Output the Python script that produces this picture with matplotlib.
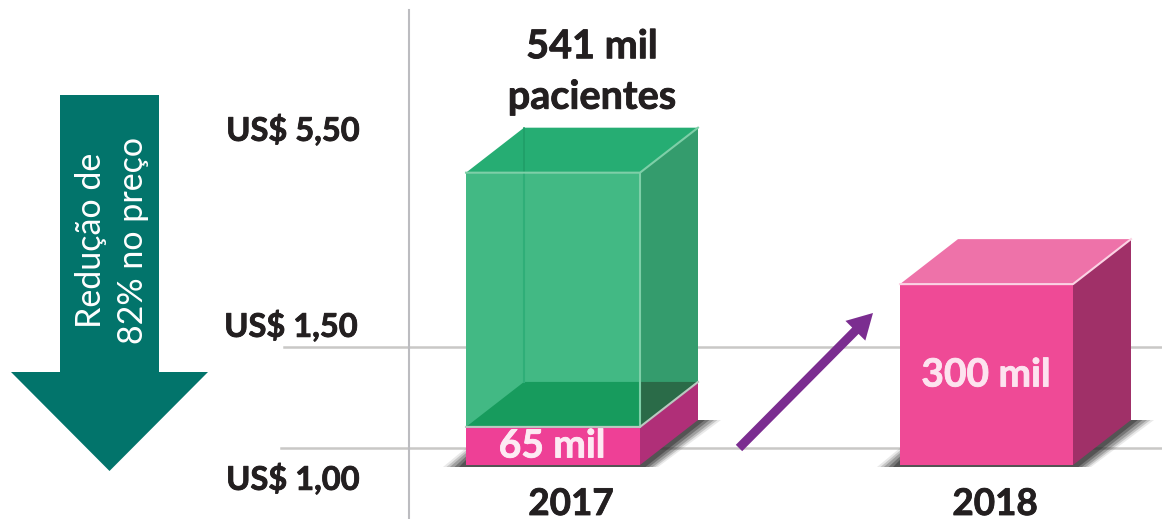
import matplotlib
matplotlib.use("Agg")
import matplotlib.pyplot as plt
import matplotlib.patheffects as pe
from matplotlib.patches import Polygon, FancyArrow

plt.rcParams['font.family'] = ['Lato', 'DejaVu Sans']

# --- dados ---
anos = ['2017', '2018']
precos = ['US$ 5,50', 'US$ 1,50', 'US$ 1,00']
rotulo_total = '541 mil\npacientes'
rotulo_2017 = '65 mil'
rotulo_2018 = '300 mil'
seta_texto = 'Redução de\n82% no preço'
# alturas como desenhadas na figura (mil pacientes)
altura_total_2017 = 522
altura_base_2017 = 68
altura_2018 = 323

# --- layout (a figura inteira em pixels) ---
W, H = 1162, 519
BASE = 465
ESCALA = 0.56  # px por mil pacientes
DX, DY = 58, -45
TXT = '#231f20'

fig = plt.figure(figsize=(W / 100, H / 100), dpi=100)
ax = fig.add_axes([0, 0, 1, 1])
ax.set_xlim(0, W)
ax.set_ylim(H, 0)
ax.axis('off')


def poly(pts, color, z=3, alpha=1.0):
    ax.add_patch(Polygon(pts, closed=True, facecolor=color, edgecolor='none', alpha=alpha, zorder=z))


def sombra(x0, x1):
    # sombra suave no chao, camadas transparentes
    for k, a in zip([1.0, 0.85, 0.7, 0.5, 0.3], [0.10, 0.18, 0.25, 0.35, 0.45]):
        poly([(x0 - 23 * k, BASE + 2), (x0, BASE - 17 * k), (x1 + DX, BASE + DY),
              (x1 + DX + 23 * k, BASE + DY), (x1 + 18 * k, BASE + 2)], '#2b2b2b', z=2, alpha=a)


def topo(v):
    return BASE - v * ESCALA


def negrito(x, y, txt, color, size, **kw):
    t = ax.text(x, y, txt, color=color, fontsize=size, fontweight='bold', ha='center', zorder=8, **kw)
    t.set_path_effects([pe.withStroke(linewidth=0.6, foreground=color)])
    return t


# grade e eixo
ax.plot([284, W], [347, 347], color='#c9c8c6', lw=1.8, zorder=1)
ax.plot([281, W], [448, 448], color='#c9c8c6', lw=1.8, zorder=1)
ax.plot([409, 409], [10, H], color='#bcbcc0', lw=1.5, zorder=1)

# --- 2017 ---
x0, x1 = 466, 640
y_base = topo(altura_base_2017)
y_total = topo(altura_total_2017)
sombra(x0, x1)
poly([(x0, y_base), (x1, y_base), (x1, BASE), (x0, BASE)], '#ee4096', z=3)
poly([(x1, y_base), (x1 + DX, y_base + DY), (x1 + DX, BASE + DY), (x1, BASE)], '#b02f78', z=3)
# caixa verde transparente
poly([(x0, y_total), (x1, y_total), (x1, y_base), (x0, y_base)], '#42b984', z=4)
poly([(x1, y_total), (x1 + DX, y_total + DY), (x1 + DX, y_base + DY), (x1, y_base)], '#349c6d', z=4)
poly([(x0, y_total), (x0 + DX, y_total + DY), (x1 + DX, y_total + DY), (x1, y_total)], '#26ad73', z=4)
poly([(x0, y_base), (x0 + DX, y_base + DY), (x1, y_base + DY), (x1, y_base)], '#179b5d', z=5)
poly([(x1, y_base + DY), (x1 + DX, y_base + DY), (x1, y_base)], '#2a6b48', z=5)
ax.plot([x0 + DX, x0 + DX], [y_total, y_base + DY], color='#2fae78', lw=1.5, zorder=5)
ax.plot([x0 + DX, x0 + DX], [y_total + DY, y_total], color='#1f9e68', lw=1.2, zorder=5)
ax.plot([x0, x1, x1 + DX], [y_total, y_total, y_total + DY], color='#7ecfa8', lw=1.5, zorder=6)
ax.plot([x1, x1], [y_total, y_base], color='#7ecfa8', lw=1.5, zorder=6)
ax.plot([x0, x1, x1 + DX], [y_base, y_base, y_base + DY], color='#b9c9c0', lw=1.5, zorder=6)

# --- 2018 ---
x0b, x1b = 900, 1073
y_2018 = topo(altura_2018)
sombra(x0b, x1b)
poly([(x0b, y_2018), (x1b, y_2018), (x1b, BASE), (x0b, BASE)], '#ef4a96', z=3)
poly([(x1b, y_2018), (x1b + DX, y_2018 + DY), (x1b + DX, BASE + DY), (x1b, BASE)], '#a03068', z=3)
poly([(x0b, y_2018), (x0b + DX, y_2018 + DY), (x1b + DX, y_2018 + DY), (x1b, y_2018)], '#ee72a9', z=3)
ax.plot([x0b, x1b, x1b + DX], [y_2018, y_2018, y_2018 + DY], color='#fbd3e4', lw=1.5, zorder=6)

# setas
ax.add_patch(FancyArrow(109.5, 95, 0, 376, width=99, head_width=197, head_length=99,
                        length_includes_head=True, facecolor='#02746b', edgecolor='none', zorder=3))
ax.add_patch(FancyArrow(739, 448, 134, -135, width=9, head_width=28, head_length=25,
                        length_includes_head=True, facecolor='#7b2d90', edgecolor='none', zorder=7))

# textos
ax.text(112, 240, seta_texto, color='white', fontsize=24.5, rotation=90, ha='center', va='center',
        multialignment='center', linespacing=1.42, zorder=8)
for txt, x, y in zip(precos, [293, 291, 293], [130, 326, 479]):
    negrito(x, y, txt, TXT, 23.5, va='center')
negrito(592, 72, rotulo_total, TXT, 28.5, va='center', linespacing=1.45)
negrito(552, 446, rotulo_2017, '#fdeaf3', 28, va='center')
negrito(986, 375, rotulo_2018, '#fde3ef', 28, va='center')
for txt, x in zip(anos, [571, 995]):
    negrito(x, 515, txt, TXT, 26.5, va='baseline')

fig.savefig('out.png', dpi=100)
